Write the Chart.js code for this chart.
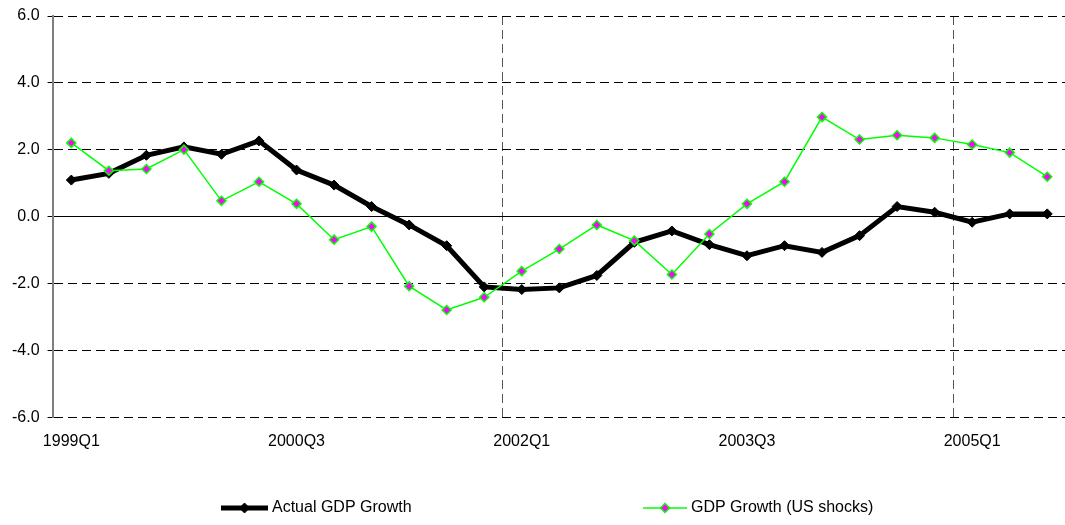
<!DOCTYPE html>
<html>
<head>
<meta charset="utf-8">
<title>GDP Growth</title>
<script src="https://cdn.jsdelivr.net/npm/chart.js@4/dist/chart.umd.min.js"></script>
<style>
    html, body { margin: 0; padding: 0; background: #fff; overflow: hidden; }
    #wrap { width: 1072px; height: 525px; position: relative; }
</style>
</head>
<body>
<div id="wrap"><canvas id="gdpChart"></canvas></div>
<script>
// Quarters 1999Q1 .. 2005Q3
const quarters = [
    '1999Q1', '1999Q2', '1999Q3', '1999Q4',
    '2000Q1', '2000Q2', '2000Q3', '2000Q4',
    '2001Q1', '2001Q2', '2001Q3', '2001Q4',
    '2002Q1', '2002Q2', '2002Q3', '2002Q4',
    '2003Q1', '2003Q2', '2003Q3', '2003Q4',
    '2004Q1', '2004Q2', '2004Q3', '2004Q4',
    '2005Q1', '2005Q2', '2005Q3'
];

const actualGrowth = [
    1.10, 1.30, 1.84, 2.09, 1.87, 2.27, 1.40, 0.95, 0.31,
    -0.24, -0.86, -2.09, -2.17, -2.12, -1.75, -0.76, -0.42, -0.83,
    -1.16, -0.86, -1.06, -0.56, 0.31, 0.14, -0.16, 0.09, 0.09
];

const usShockGrowth = [
    2.21, 1.38, 1.43, 2.01, 0.48, 1.05, 0.39, -0.68, -0.29,
    -2.07, -2.78, -2.40, -1.62, -0.96, -0.24, -0.71, -1.72, -0.51,
    0.39, 1.05, 2.98, 2.31, 2.44, 2.36, 2.16, 1.92, 1.20
];

const yTicks = [-6, -4, -2, 0, 2, 4, 6];

const FONT = 'Liberation Sans, Arial, sans-serif';

/**
 * Legend drawn under the plot: line sample with marker, then the label
 */
const bottomLegend = {
    id: 'bottomLegend',
    afterDraw(chart) {
        const ctx = chart.ctx;
        const y = 508;
        const slots = [221, 643];
        ctx.save();
        chart.data.datasets.forEach((ds, i) => {
            const x = slots[i];
            const w = ds.legendSample;
            ctx.strokeStyle = ds.borderColor;
            ctx.lineWidth = ds.borderWidth;
            ctx.setLineDash([]);
            ctx.beginPath();
            ctx.moveTo(x, y);
            ctx.lineTo(x + w, y);
            ctx.stroke();
            ctx.fillStyle = ds.pointBackgroundColor;
            ctx.strokeStyle = ds.pointBorderColor;
            ctx.lineWidth = ds.pointBorderWidth;
            Chart.helpers.drawPoint(ctx, {
                pointStyle: 'rectRot',
                radius: ds.pointRadius,
                borderWidth: ds.pointBorderWidth
            }, x + w / 2, y);
            ctx.fillStyle = '#000';
            ctx.font = '16px ' + FONT;
            ctx.textBaseline = 'middle';
            ctx.textAlign = 'left';
            ctx.fillText(ds.label, x + w + 4, y);
        });
        ctx.restore();
    }
};

function initGdpChart() {
    const el = document.getElementById('gdpChart');
    if (!el) return;

    new Chart(el.getContext('2d'), {
        type: 'line',
        data: {
            labels: quarters,
            datasets: [{
                label: 'Actual GDP Growth',
                data: actualGrowth,
                borderColor: '#000000',
                backgroundColor: '#000000',
                borderWidth: 5,
                pointStyle: 'rectRot',
                pointRadius: 5,
                pointBackgroundColor: '#000000',
                pointBorderColor: '#000000',
                pointBorderWidth: 1,
                tension: 0,
                order: 1,
                legendSample: 47
            }, {
                label: 'GDP Growth (US shocks)',
                data: usShockGrowth,
                borderColor: '#00ff00',
                backgroundColor: '#ff00ff',
                borderWidth: 1.5,
                pointStyle: 'rectRot',
                pointRadius: 4.5,
                pointBackgroundColor: '#ff00ff',
                pointBorderColor: '#00ff00',
                pointBorderWidth: 1.5,
                tension: 0,
                order: 0,
                legendSample: 44
            }]
        },
        options: {
            responsive: true,
            maintainAspectRatio: false,
            animation: false,
            layout: {
                padding: { top: 0, right: 0, bottom: 60, left: 4 }
            },
            plugins: {
                legend: { display: false },
                tooltip: { enabled: false }
            },
            scales: {
                x: {
                    offset: true,
                    grid: {
                        offset: true,
                        drawTicks: false,
                        lineWidth: 1,
                        color: function(c) {
                            return (c.index === 12 || c.index === 24) ? '#555555' : 'rgba(0,0,0,0)';
                        }
                    },
                    border: { display: false, dash: [9, 5] },
                    ticks: {
                        autoSkip: false,
                        maxRotation: 0,
                        padding: 14,
                        color: '#000',
                        font: { family: FONT, size: 16 },
                        callback: function(value, index) {
                            return index % 6 === 0 ? quarters[index] : '';
                        }
                    }
                },
                y: {
                    min: -6,
                    max: 6,
                    afterBuildTicks: function(axis) {
                        axis.ticks = yTicks.map(v => ({ value: v }));
                    },
                    grid: {
                        color: '#000000',
                        lineWidth: 1,
                        tickLength: 5
                    },
                    border: {
                        display: true,
                        color: '#808080',
                        width: 2,
                        dash: function(c) {
                            if (c.type !== 'tick') return [];
                            return c.tick.value === 0 ? [] : [9, 5];
                        }
                    },
                    ticks: {
                        padding: 8,
                        color: '#000',
                        font: { family: FONT, size: 16, lineHeight: 1.0 },
                        callback: function(value) {
                            return Number(value).toFixed(1);
                        }
                    }
                }
            }
        },
        plugins: [bottomLegend]
    });
}

document.addEventListener('DOMContentLoaded', initGdpChart);
</script>
</body>
</html>
